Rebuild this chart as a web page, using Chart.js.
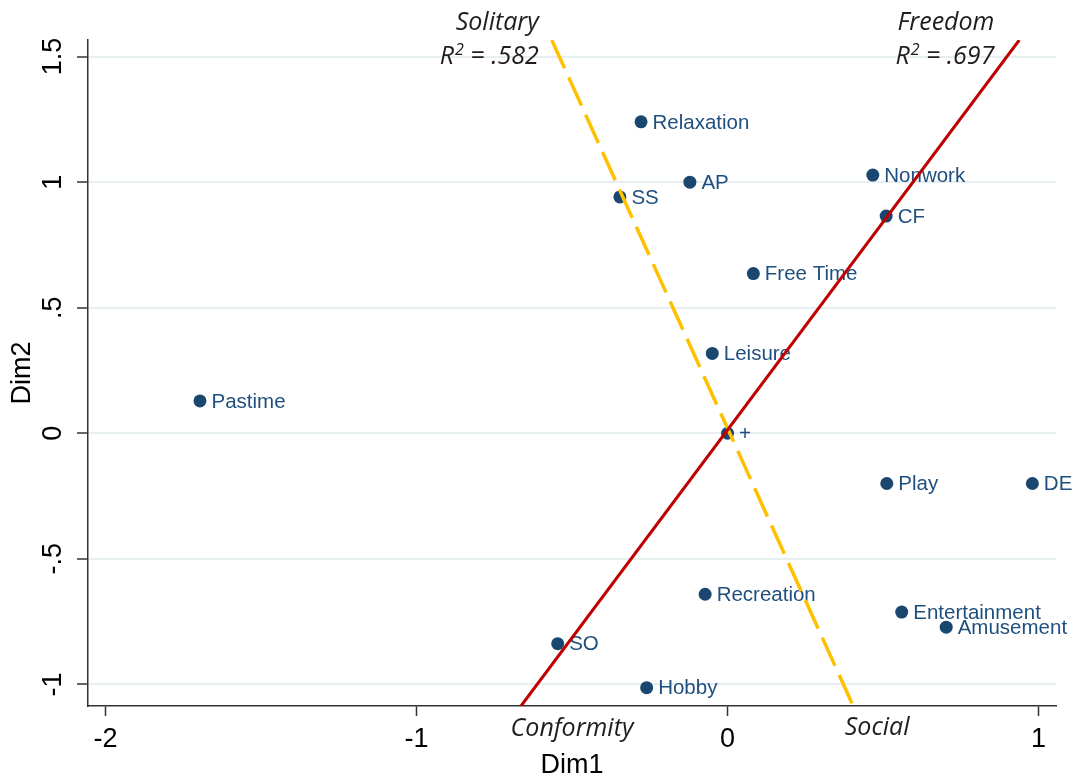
<!DOCTYPE html>
<html>
<head>
<meta charset="utf-8">
<script src="https://cdn.jsdelivr.net/npm/chart.js@4.4.1/dist/chart.umd.min.js"></script>
<style>
  html, body { margin: 0; padding: 0; background: #ffffff; }
  #wrap { width: 1076px; height: 779px; }
</style>
</head>
<body>
<div id="wrap"><canvas id="c" width="1076" height="779"></canvas></div>
<script>
// ---- data ----
const pointNames = ["Relaxation", "AP", "SS", "Nonwork", "CF", "Free Time", "Leisure", "+", "Pastime", "Play", "DE", "Recreation", "Entertainment", "Amusement", "SO", "Hobby"];
const dim1 = [-0.278, -0.121, -0.346, 0.467, 0.510, 0.083, -0.049, 0.000, -1.696, 0.512, 0.980, -0.072, 0.560, 0.703, -0.546, -0.260];
const dim2 = [1.240, 1.000, 0.941, 1.028, 0.865, 0.636, 0.318, 0.000, 0.129, -0.200, -0.200, -0.641, -0.712, -0.772, -0.838, -1.013];

const freedomX = [-0.664, 0.938];
const freedomY = [-1.086, 1.566];
const solitaryX = [-0.565, 0.404];
const solitaryY = [1.566, -1.086];

const xTicks = [-2, -1, 0, 1];
const xTickLabels = ["-2", "-1", "0", "1"];
const yTicks = [-1, -0.5, 0, 0.5, 1, 1.5];
const yTickLabels = ["-1", "-.5", "0", ".5", "1", "1.5"];

const annotText = ["Solitary", "R2| = .582", "Freedom", "R2| = .697", "Conformity", "Social"];
const annotX = [-0.607, -0.607, 0.858, 0.858, -0.500, 0.481];
const annotY = [1.604, 1.472, 1.606, 1.472, -1.204, -1.201];
const annotAlign = ["right", "right", "right", "right", "center", "center"];

// ---- build ----
const scatterData = dim1.map((x, i) => ({ x: x, y: dim2[i] }));
const freedomData = freedomX.map((x, i) => ({ x: x, y: freedomY[i] }));
const solitaryData = solitaryX.map((x, i) => ({ x: x, y: solitaryY[i] }));

const markerColor = '#1a476f';
const labelColor = '#1f4f7e';

const pointLabelPlugin = {
  id: 'pointLabels',
  afterDatasetDraw(chart, args) {
    if (args.index !== 0) return;
    const ctx = chart.ctx;
    ctx.save();
    ctx.font = '20.5px "Liberation Sans", Arial, sans-serif';
    ctx.fillStyle = labelColor;
    ctx.textAlign = 'left';
    ctx.textBaseline = 'middle';
    args.meta.data.forEach((el, i) => {
      ctx.fillText(pointNames[i], el.x + 11.5, el.y + 1);
    });
    ctx.restore();
  }
};

const annotPlugin = {
  id: 'annots',
  afterDraw(chart) {
    const ctx = chart.ctx;
    const xs = chart.scales.x, ys = chart.scales.y;
    const mainFont = 'italic 25px "Open Sans", sans-serif';
    const supFont = 'italic 16px "Open Sans", sans-serif';
    ctx.save();
    ctx.fillStyle = '#1e1e1e';
    ctx.textBaseline = 'alphabetic';
    annotText.forEach((t, i) => {
      const px = xs.getPixelForValue(annotX[i]);
      const py = ys.getPixelForValue(annotY[i]);
      if (t.indexOf('|') >= 0) {
        const base = t.split('|');
        const r = base[0].charAt(0), sup = base[0].slice(1), rest = base[1];
        ctx.font = mainFont;
        const wR = ctx.measureText(r).width;
        const wRest = ctx.measureText(rest).width;
        ctx.font = supFont;
        const wSup = ctx.measureText(sup).width;
        const total = wR + wSup + wRest + 1;
        let sx = annotAlign[i] === 'right' ? px - total : (annotAlign[i] === 'center' ? px - total / 2 : px);
        ctx.textAlign = 'left';
        ctx.font = mainFont;
        ctx.fillText(r, sx, py);
        ctx.font = supFont;
        ctx.fillText(sup, sx + wR + 1, py - 9);
        ctx.font = mainFont;
        ctx.fillText(rest, sx + wR + wSup + 1, py);
      } else {
        ctx.font = mainFont;
        ctx.textAlign = annotAlign[i];
        ctx.fillText(t, px, py);
      }
    });
    ctx.restore();
  }
};

const tickFont = { family: '"Liberation Sans", Arial, sans-serif', size: 27 };

new Chart(document.getElementById('c'), {
  type: 'scatter',
  data: {
    datasets: [
      {
        label: 'points',
        data: scatterData,
        backgroundColor: markerColor,
        borderColor: markerColor,
        borderWidth: 0,
        pointRadius: 6.5,
        pointHoverRadius: 6.5,
        order: 3
      },
      {
        label: 'Solitary-Social',
        data: solitaryData,
        showLine: true,
        borderColor: '#ffc000',
        borderWidth: 3.5,
        borderDash: [31, 10],
        pointRadius: 0,
        fill: false,
        order: 2
      },
      {
        label: 'Freedom-Conformity',
        data: freedomData,
        showLine: true,
        borderColor: '#c00000',
        borderWidth: 3,
        pointRadius: 0,
        fill: false,
        order: 1
      }
    ]
  },
  options: {
    responsive: false,
    animation: false,
    devicePixelRatio: 1,
    layout: { padding: { top: 40, right: 20, left: 0, bottom: 0 } },
    plugins: {
      legend: { display: false },
      tooltip: { enabled: false },
      title: { display: false }
    },
    scales: {
      x: {
        type: 'linear',
        min: -2.056,
        max: 1.056,
        afterBuildTicks: (s) => { s.ticks = xTicks.map(v => ({ value: v })); },
        afterFit: (s) => { s.height = 73; },
        ticks: {
          font: tickFont,
          color: '#000000',
          padding: 7,
          maxRotation: 0,
          minRotation: 0,
          callback: (v) => { const k = xTicks.indexOf(v); return k >= 0 ? xTickLabels[k] : ''; }
        },
        grid: {
          drawOnChartArea: false,
          drawTicks: true,
          tickLength: 10,
          tickColor: '#333333',
          tickWidth: 1.5
        },
        border: { display: true, color: '#333333', width: 1.5 },
        title: {
          display: true,
          text: 'Dim1',
          font: { family: '"Liberation Sans", Arial, sans-serif', size: 27 },
          color: '#000000',
          padding: { top: 0, bottom: -3 }
        }
      },
      y: {
        type: 'linear',
        min: -1.086,
        max: 1.566,
        afterBuildTicks: (s) => { s.ticks = yTicks.map(v => ({ value: v })); },
        afterFit: (s) => { s.width = 88; },
        ticks: {
          font: tickFont,
          color: '#000000',
          padding: 5,
          minRotation: 90,
          maxRotation: 90,
          crossAlign: 'center',
          callback: (v) => { const k = yTicks.indexOf(v); return k >= 0 ? yTickLabels[k] : ''; }
        },
        grid: {
          drawOnChartArea: true,
          color: '#e6eef1',
          lineWidth: 2,
          drawTicks: true,
          tickLength: 11,
          tickColor: '#333333',
          tickWidth: 1.5
        },
        border: { display: true, color: '#333333', width: 1.5 },
        title: {
          display: true,
          text: 'Dim2',
          font: { family: '"Liberation Sans", Arial, sans-serif', size: 27 },
          color: '#000000',
          padding: { top: 6, bottom: 0 }
        }
      }
    }
  },
  plugins: [pointLabelPlugin, annotPlugin]
});
</script>
</body>
</html>
